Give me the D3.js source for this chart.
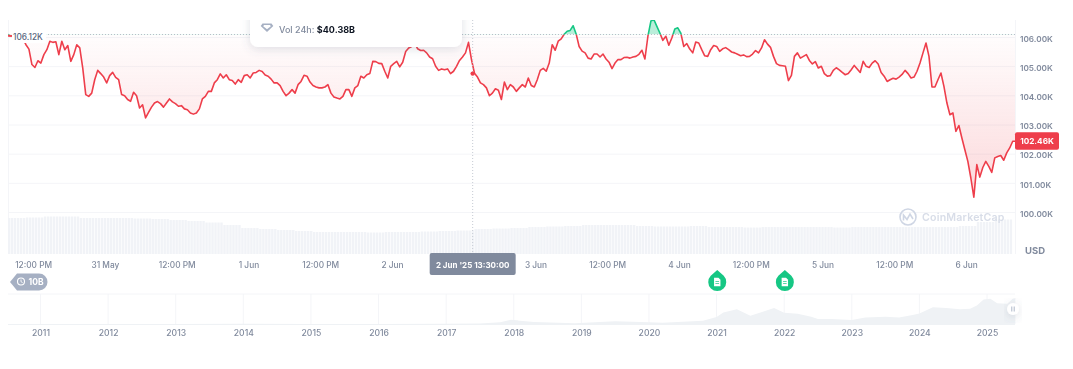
<!DOCTYPE html>
<html>
<head>
<meta charset="utf-8">
<script src="https://cdn.jsdelivr.net/npm/d3@7"></script>
<style>
	html,body{margin:0;padding:0;background:#fff;overflow:hidden;}
	text{font-family:Inter,"Noto Sans",sans-serif;}
	svg{filter:blur(0.35px);}
</style>
</head>
<body>
<div id="svgContainer"></div>
<script>
//price in thousands of USD, one reading every 30 minutes from priceStart
var priceStart = Date.UTC(2025,4,30,7,48);
var prices = [106.12,106.06,106.11,106.17,106.10,105.97,105.77,105.62,105.09,104.99,105.22,105.14,105.43,105.60,105.89,105.85,105.87,105.43,105.89,105.60,105.74,105.20,105.43,105.77,105.66,104.97,104.06,104.00,104.11,104.57,104.89,104.78,104.66,104.46,104.71,104.82,104.65,104.57,104.06,104.02,103.89,103.83,104.14,104.02,103.60,103.71,103.26,103.45,103.63,103.77,103.82,103.75,103.63,103.77,103.91,103.81,103.75,103.66,103.68,103.57,103.54,103.43,103.39,103.43,103.57,103.91,104.00,104.17,104.17,104.46,104.57,104.77,104.63,104.74,104.57,104.54,104.42,104.57,104.48,104.71,104.74,104.63,104.80,104.82,104.89,104.85,104.73,104.69,104.59,104.46,104.46,104.37,104.17,104.02,104.11,104.23,104.11,104.40,104.51,104.72,104.69,104.49,104.37,104.32,104.29,104.29,104.32,104.40,104.11,103.98,103.94,103.91,104.00,104.23,104.23,104.00,104.29,104.37,104.69,
	104.63,104.74,104.78,105.20,105.19,105.13,105.12,104.86,104.63,105.03,105.12,105.20,105.01,105.17,105.54,105.66,105.71,105.83,105.63,105.57,105.58,105.49,105.35,105.29,105.03,104.89,104.94,104.91,104.94,104.78,104.86,105.03,105.23,105.35,105.49,105.85,105.26,104.79,104.66,104.46,104.40,104.29,104.02,104.11,104.26,104.21,103.89,104.49,104.23,104.40,104.32,104.17,104.29,104.40,104.32,104.63,104.37,104.32,104.57,104.89,104.96,104.86,105.14,105.77,105.58,105.89,105.97,106.13,106.23,106.26,106.42,106.14,105.71,105.55,105.49,105.31,105.28,105.45,105.45,105.35,105.45,105.28,105.17,104.95,105.14,105.26,105.26,105.33,105.34,105.31,105.35,105.37,105.44,105.58,105.28,106.06,106.58,106.63,106.40,106.17,105.92,106.06,105.75,106.00,106.31,106.35,106.17,105.71,105.81,105.62,105.49,105.86,105.83,105.60,105.39,105.37,105.60,105.74,105.71,105.54,
	105.63,105.67,105.60,105.52,105.49,105.44,105.39,105.42,105.36,105.37,105.45,105.57,105.49,105.66,105.94,105.79,105.68,105.37,105.12,105.06,105.05,105.03,104.54,104.72,105.37,105.49,105.31,105.37,105.43,105.23,105.11,105.19,104.97,105.03,104.78,104.69,104.71,104.89,104.98,104.91,104.82,104.74,104.78,104.91,105.06,104.94,104.82,105.20,105.03,104.99,105.14,105.22,105.11,104.82,104.69,104.51,104.57,104.62,104.59,104.66,104.75,104.89,104.78,104.63,104.66,104.86,105.14,105.49,105.83,105.37,104.32,104.32,104.57,104.80,104.34,103.77,103.37,103.43,102.80,103.00,102.57,102.17,101.77,101.20,100.54,101.66,101.23,101.56,101.77,101.60,101.39,101.89,101.94,101.97,101.81,102.06,102.23,102.46,102.46];

//24h volume in billions, one reading every 3 hours from priceStart
var volumes = [58.1,58.9,60.5,60.5,58.1,58.1,58.1,57.3,56.5,54.8,53.2,50.8,46.8,41.9,40.3,38.7,37.1,35.5,35.5,35.5,34.7,35.5,35.5,36.3,37.1,37.9,40.4,41.1,41.9,43.5,44.4,45.2,46.8,46.8,46.8,45.2,44.4,44.4,45.2,43.5,43.5,42.7,43.5,43.5,43.5,43.5,42.7,43.5,43.5,43.5,43.5,43.5,43.5,45.2,51.6,55.6,58.1];

var yTicks = [100,101,102,103,104,105,106];
var baselinePrice = 106.12;
var lastPrice = 102.46;
var hoverTime = Date.UTC(2025,5,2,13,30);
var hoverPrice = 104.78;

var timeTicks = [
	{t:Date.UTC(2025,4,30,12),l:"12:00 PM"},{t:Date.UTC(2025,4,31),l:"31 May"},
	{t:Date.UTC(2025,4,31,12),l:"12:00 PM"},{t:Date.UTC(2025,5,1),l:"1 Jun"},
	{t:Date.UTC(2025,5,1,12),l:"12:00 PM"},{t:Date.UTC(2025,5,2),l:"2 Jun"},
	{t:Date.UTC(2025,5,3),l:"3 Jun"},{t:Date.UTC(2025,5,3,12),l:"12:00 PM"},
	{t:Date.UTC(2025,5,4),l:"4 Jun"},{t:Date.UTC(2025,5,4,12),l:"12:00 PM"},
	{t:Date.UTC(2025,5,5),l:"5 Jun"},{t:Date.UTC(2025,5,5,12),l:"12:00 PM"},
	{t:Date.UTC(2025,5,6),l:"6 Jun"}];

//history strip along the bottom
var navYears = [2011,2012,2013,2014,2015,2016,2017,2018,2019,2020,2021,2022,2023,2024,2025];
var navX = [2010.55,2011,2012,2013,2014,2015,2016,2017,2017.5,2017.8,2017.96,2018.3,2018.9,2019.5,2020,2020.2,2020.5,2020.8,2021,2021.1,2021.3,2021.5,2021.65,2021.85,2022,2022.2,2022.4,2022.5,2022.7,2023,2023.2,2023.5,2023.7,2023.9,2024,2024.2,2024.4,2024.6,2024.75,2024.85,2024.95,2025.05,2025.15,2025.3,2025.38,2025.42];
var navPrice = [0,0.3,5,13,750,300,430,1000,2500,7000,17000,8000,3500,11000,7500,5000,9500,13000,29000,47000,60000,34000,47000,65000,46000,42000,30000,20000,20000,16500,27000,30000,26000,37000,43000,68000,65000,60000,62000,75000,100000,103000,85000,83000,103000,106000];
var newsYears = [2021.01,2022.01];

var red = "#ee3e4b", green = "#16c784", grey = "#808a9d", gridCol = "#f4f5f8";

var svg = d3.select("#svgContainer").append("svg").attr("width",1073).attr("height",369);
var defs = svg.append("defs");

//scales
var x = d3.scaleUtc().domain([priceStart, Date.UTC(2025,5,6,8,11)]).range([8,1015]);
var y = d3.scaleLinear().domain([100,106]).range([213,38]);
var yVol = d3.scaleLinear().domain([0,80]).range([254,204.4]);
var xNav = d3.scaleLinear().domain([2011,2025]).range([40.5,987]);
var yNav = d3.scaleLinear().domain([0,106000]).range([324,298]);

var priceData = prices.map(function(p,i){ return {t:priceStart + i*1800000, p:p}; });
var baseY = y(baselinePrice);

//clips and gradient for the two sides of the baseline
defs.append("clipPath").attr("id","clipAbove").append("rect")
	.attr("x",8).attr("y",20).attr("width",1007).attr("height",baseY-20);
defs.append("clipPath").attr("id","clipBelow").append("rect")
	.attr("x",8).attr("y",baseY).attr("width",1007).attr("height",254-baseY);
var grad = defs.append("linearGradient").attr("id","redFade")
	.attr("gradientUnits","userSpaceOnUse").attr("x1",0).attr("x2",0).attr("y1",baseY).attr("y2",y(100.5));
grad.append("stop").attr("offset",0).attr("stop-color",red).attr("stop-opacity",0.01);
grad.append("stop").attr("offset",1).attr("stop-color",red).attr("stop-opacity",0.2);
var blur = defs.append("filter").attr("id","shadow").attr("x","-20%").attr("y","-40%").attr("width","140%").attr("height","200%");
blur.append("feDropShadow").attr("dx",0).attr("dy",2).attr("stdDeviation",5).attr("flood-color","#58667e").attr("flood-opacity",0.2);

//grid
svg.append("g").selectAll("line").data(yTicks).enter().append("line")
	.attr("x1",8).attr("x2",1015)
	.attr("y1",function(d){return y(d)-0.5;}).attr("y2",function(d){return y(d)-0.5;})
	.style("stroke",gridCol);
svg.append("line").attr("x1",8.5).attr("x2",8.5).attr("y1",20).attr("y2",254).style("stroke",gridCol);
svg.append("line").attr("x1",1015.5).attr("x2",1015.5).attr("y1",20).attr("y2",254).style("stroke",gridCol);

//volume bars, each 30 minute slot reads its 3 hour volume
svg.append("g").selectAll("rect").data(d3.range(0,336)).enter().append("rect")
	.attr("x",function(i){return x(priceStart + i*1800000);})
	.attr("width",2.4)
	.attr("y",function(i){return yVol(volumes[Math.floor(i/6)]);})
	.attr("height",function(i){return yVol(0) - yVol(volumes[Math.floor(i/6)]);})
	.style("fill","#f1f3f7");

//areas
var area = d3.area().x(function(d){return x(d.t);}).y0(baseY).y1(function(d){return y(d.p);});
var line = d3.line().x(function(d){return x(d.t);}).y(function(d){return y(d.p);});

svg.append("path").datum(priceData).attr("d",area).attr("clip-path","url(#clipBelow)").style("fill","url(#redFade)");
svg.append("path").datum(priceData).attr("d",area).attr("clip-path","url(#clipAbove)").style("fill",green).style("fill-opacity",0.3);

//baseline
svg.append("line").attr("x1",48).attr("x2",1015).attr("y1",baseY).attr("y2",baseY)
	.style("stroke","#b8bdc8").style("stroke-width",1).style("stroke-dasharray","1,2");

//price line
svg.append("path").datum(priceData).attr("d",line).attr("clip-path","url(#clipBelow)")
	.style("fill","none").style("stroke",red).style("stroke-width",1.6).style("stroke-linejoin","round");
svg.append("path").datum(priceData).attr("d",line).attr("clip-path","url(#clipAbove)")
	.style("fill","none").style("stroke",green).style("stroke-width",1.6).style("stroke-linejoin","round");

//baseline label
svg.append("rect").attr("x",12).attr("y",29).attr("width",34).attr("height",14).style("fill","#fff");
svg.append("circle").attr("cx",x(priceStart)+1).attr("cy",baseY+1.5).attr("r",1).style("fill",red);
svg.append("text").attr("x",13).attr("y",40).style("font-size","8.3px").style("font-weight",500).style("fill","#58667e").text("106.12K");

//crosshair
svg.append("line").attr("x1",x(hoverTime)).attr("x2",x(hoverTime)).attr("y1",20).attr("y2",254)
	.style("stroke","#c5cad3").style("stroke-dasharray","1,2");
svg.append("circle").attr("cx",x(hoverTime)).attr("cy",y(hoverPrice)).attr("r",2.2).style("fill",red);

//y axis
var yAxis = svg.append("g").attr("transform","translate(1015,0.7)")
	.call(d3.axisRight(y).tickValues(yTicks).tickSize(0).tickPadding(5).tickFormat(function(d){return d3.format(".2f")(d)+"K";}));
yAxis.select(".domain").remove();
yAxis.selectAll("text").style("font-size","8.2px").style("font-weight",600).style("font-family","Inter").style("fill",grey);

svg.append("rect").attr("x",1015).attr("y",y(lastPrice)-9).attr("width",44).attr("height",17.5).attr("rx",2).style("fill",red);
svg.append("text").attr("x",1037).attr("y",y(lastPrice)+3).attr("text-anchor","middle")
	.style("font-size","8.2px").style("font-weight",700).style("fill","#fff").text(d3.format(".2f")(lastPrice)+"K");
svg.append("text").attr("x",1025).attr("y",254).style("font-size","9.5px").style("font-weight",700).style("fill",grey).text("USD");

//x axis
var xAxis = svg.append("g").attr("transform","translate(0,257.5)")
	.call(d3.axisBottom(x).tickValues(timeTicks.map(function(d){return d.t;})).tickSize(0).tickPadding(5)
		.tickFormat(function(d,i){return timeTicks[i].l;}));
xAxis.select(".domain").remove();
xAxis.selectAll("text").style("font-size","8.3px").style("font-weight",500).style("font-family","Inter").style("fill",grey);

//hover time label
var hoverBox = svg.append("g").attr("transform","translate("+x(hoverTime)+",264)");
hoverBox.append("rect").attr("x",-43).attr("y",-11).attr("width",86).attr("height",22).attr("rx",2).style("fill",grey);
hoverBox.append("text").attr("text-anchor","middle").attr("y",3.5).style("font-size","8px").style("font-weight",700).style("fill","#fff").text("2 Jun '25 13:30:00");

//tooltip, cut by the top of the chart
var tipClip = defs.append("clipPath").attr("id","clipTip");
tipClip.append("rect").attr("x",230).attr("y",20).attr("width",260).attr("height",60);
var tip = svg.append("g").attr("clip-path","url(#clipTip)");
tip.append("rect").attr("x",250).attr("y",0).attr("width",212).attr("height",47).attr("rx",8).style("fill","#fff").attr("filter","url(#shadow)");
tip.append("path").attr("d","M262.5,23.5 h9 l1.8,2.6 l-6.3,5.9 l-6.3,-5.9 z").style("fill","#a6b0c3");
tip.append("path").attr("d","M264,25 h6 l0.8,1.2 l-3.8,3 l-3.8,-3 z").style("fill","#fff");
var tipText = tip.append("text").attr("x",279).attr("y",32.5).style("font-size","9px");
tipText.append("tspan").style("fill",grey).style("font-weight",500).text("Vol 24h: ");
tipText.append("tspan").style("fill","#0d1421").style("font-weight",700).text("$40.38B");

//watermark
var mark = svg.append("g").attr("transform","translate(908,217)");
mark.append("circle").attr("r",8).style("fill","none").style("stroke","#cfd6e4").style("stroke-width",1.6);
mark.append("path").attr("d","M-4.5,3.5 V-2 L-1,2.5 L2,-3 L5,2").style("fill","none").style("stroke","#cfd6e4").style("stroke-width",1.6);
svg.append("text").attr("x",922).attr("y",221).style("font-size","10.6px").style("font-weight",600).style("fill","#d8dde8").style("letter-spacing","0.2px").text("CoinMarketCap");

//history badge
var badge = svg.append("g");
badge.append("path").attr("d","M10,282 L17,273.5 H39 A8.5,8.5 0 0 1 39,290.5 H17 Z").style("fill","#a6b0c3");
badge.append("circle").attr("cx",21).attr("cy",281.5).attr("r",3.5).style("fill","none").style("stroke","#fff").style("stroke-width",1.1);
badge.append("path").attr("d","M21,279.5 V281.7 L22.6,282.6").style("fill","none").style("stroke","#fff").style("stroke-width",0.9);
badge.append("text").attr("x",28.5).attr("y",285).style("font-size","8.5px").style("font-weight",700).style("fill","#fff").text("10B");

//history strip
svg.append("line").attr("x1",8).attr("x2",1015).attr("y1",294).attr("y2",294).style("stroke",gridCol);
svg.append("g").selectAll("line").data(navYears).enter().append("line")
	.attr("x1",function(d){return xNav(d);}).attr("x2",function(d){return xNav(d);})
	.attr("y1",294).attr("y2",324).style("stroke",gridCol);
var navData = navX.map(function(d,i){return {x:d,p:navPrice[i]};});
svg.append("path").datum(navData)
	.attr("d",d3.area().x(function(d){return xNav(d.x);}).y0(yNav(0)).y1(function(d){return yNav(d.p);}))
	.style("fill","#eff2f5");
svg.append("line").attr("x1",8).attr("x2",1015).attr("y1",324.5).attr("y2",324.5).style("stroke","#eff2f5");
var navAxis = svg.append("g").attr("transform","translate(0,326)")
	.call(d3.axisBottom(xNav).tickValues(navYears).tickSize(0).tickPadding(4).tickFormat(d3.format("d")));
navAxis.select(".domain").remove();
navAxis.selectAll("text").style("font-size","8.6px").style("font-weight",500).style("font-family","Inter").style("fill",grey);

//slider handle
var handle = svg.append("g").attr("transform","translate(1013,309)");
handle.append("circle").attr("r",6).style("fill","#fff").attr("filter","url(#shadow)");
handle.append("path").attr("d","M-1.2,-2.5 V2.5 M1.2,-2.5 V2.5").style("stroke","#a6b0c3").style("stroke-width",0.9);

//news pins
var pins = svg.append("g").selectAll("g").data(newsYears).enter().append("g")
	.attr("transform",function(d){return "translate("+xNav(d)+",282)";});
pins.append("path").attr("d","M0,-12 L6.5,-6.2 A9,9 0 1 1 -6.5,-6.2 Z").style("fill",green);
pins.append("path").attr("d","M-3.2,-4.2 H1.2 L3.2,-2.2 V4.2 H-3.2 Z").style("fill","#fff");
pins.append("path").attr("d","M-1.8,-0.5 H1.8 M-1.8,1.5 H1.8").style("stroke",green).style("stroke-width",0.7);
</script>
</body>
</html>
